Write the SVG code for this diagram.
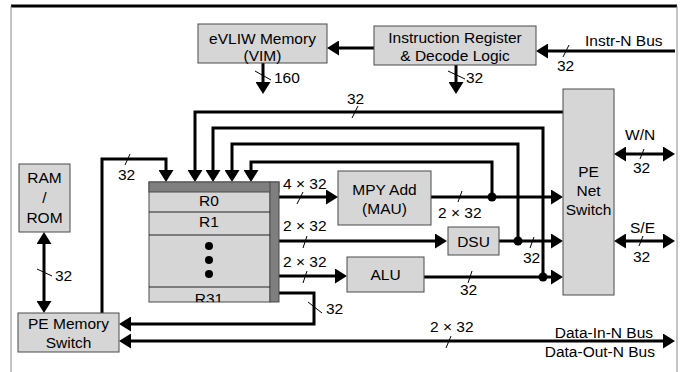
<svg xmlns="http://www.w3.org/2000/svg" width="686" height="372" viewBox="0 0 686 372">
<style>
.box{fill:#d6d6d6;stroke:#4a4a4a;stroke-width:1}
.dark{fill:#7f7f7f;stroke:#4a4a4a;stroke-width:1}
.t{font-family:"Liberation Sans",Arial,sans-serif;font-size:15.5px;fill:#000}
.c{text-anchor:middle}
.r{text-anchor:end}
.w{fill:none;stroke:#000;stroke-width:3}
.tick{fill:none;stroke:#000;stroke-width:1}
.fe{marker-end:url(#ah)}
.fs{marker-start:url(#ahs)}
</style>
<defs>
<marker id="ah" markerUnits="userSpaceOnUse" markerWidth="12" markerHeight="15" refX="3" refY="7.5" orient="auto">
<path d="M0,0 L12,7.5 L0,15 Z" fill="#000"/>
</marker>
<marker id="ahs" markerUnits="userSpaceOnUse" markerWidth="12" markerHeight="15" refX="3" refY="7.5" orient="auto-start-reverse">
<path d="M0,0 L12,7.5 L0,15 Z" fill="#000"/>
</marker>
<clipPath id="rfclip"><rect x="149" y="287" width="121" height="15"/></clipPath>
</defs>
<rect x="0" y="0" width="686" height="372" fill="#fff"/>
<g id="frame">
<line x1="11" y1="6" x2="677" y2="6" stroke="#000" stroke-width="3"/>
<line x1="11" y1="6" x2="11" y2="372" stroke="#8a8a8a" stroke-width="1"/>
<line x1="677" y1="6" x2="677" y2="372" stroke="#8a8a8a" stroke-width="1"/>
</g>
<g id="connectors">
<path class="w fe" d="M374,48 H336"/>
<path class="w fe" d="M675,51 H545"/>
<path class="w fe" d="M263,63 V85"/>
<path class="w fe" d="M456,65 V85"/>
<path class="w fe" d="M563,112 H195 V173"/>
<path class="w fe" d="M102,313 V159 H166 V173"/>
<path class="w fe" d="M543,277 V128 H213 V173"/>
<path class="w fe" d="M518,241 V144 H232 V173"/>
<path class="w fe" d="M492,197 V162 H251 V173"/>
<path class="w fe" d="M279,197 H329"/>
<path class="w fe" d="M431,197 H554"/>
<path class="w fe" d="M279,241 H438"/>
<path class="w fe" d="M499,241 H554"/>
<path class="w fe" d="M279,276 H338"/>
<path class="w fe" d="M424,277 H554"/>
<path class="w fe" d="M279,293 H314 V324 H128"/>
<path class="w fe fs" d="M128,341 H666"/>
<path class="w fe fs" d="M44,241 V304"/>
<path class="w fe fs" d="M623,154 H666"/>
<path class="w fe fs" d="M623,241 H666"/>
<circle cx="492" cy="197" r="4.5"/>
<circle cx="518" cy="241" r="4.5"/>
<circle cx="543" cy="277" r="4.5"/>
<g class="tick">
<line x1="255" y1="71" x2="271" y2="80"/>
<line x1="448" y1="71" x2="465" y2="79"/>
<line x1="563" y1="57" x2="569" y2="45"/>
<line x1="352" y1="118" x2="358" y2="106"/>
<line x1="125" y1="165" x2="130" y2="154"/>
<line x1="297" y1="204" x2="303" y2="192"/>
<line x1="458" y1="202" x2="462" y2="191"/>
<line x1="303" y1="248" x2="307" y2="236"/>
<line x1="530" y1="248" x2="534" y2="237"/>
<line x1="303" y1="283" x2="307" y2="271"/>
<line x1="468" y1="283" x2="472" y2="271"/>
<line x1="308" y1="302" x2="322" y2="313"/>
<line x1="37" y1="269" x2="52" y2="276"/>
<line x1="640" y1="159" x2="644" y2="149"/>
<line x1="639" y1="246" x2="643" y2="236"/>
<line x1="446" y1="348" x2="451" y2="336"/>
</g>
<g class="t">
<text x="274" y="83">160</text>
<text x="466" y="83">32</text>
<text x="557" y="71">32</text>
<text x="347" y="104">32</text>
<text x="118" y="180">32</text>
<text x="283" y="189">4 × 32</text>
<text x="438" y="218">2 × 32</text>
<text x="283" y="231">2 × 32</text>
<text x="523" y="263">32</text>
<text x="283" y="267">2 × 32</text>
<text x="460" y="295">32</text>
<text x="326" y="314">32</text>
<text x="55" y="281">32</text>
<text x="625" y="140">W/N</text>
<text x="633" y="173">32</text>
<text x="630" y="233">S/E</text>
<text x="633" y="262">32</text>
<text x="430" y="332">2 × 32</text>
<text x="585" y="46">Instr-N Bus</text>
<text class="r" x="653" y="338">Data-In-N Bus</text>
<text class="r" x="655" y="357">Data-Out-N Bus</text>
</g>
</g>
<g id="vim">
<rect class="box" x="198" y="24" width="129" height="39"/>
<text class="t c" x="262.5" y="44">eVLIW Memory</text>
<text class="t c" x="262.5" y="61">(VIM)</text>
</g>
<g id="ir">
<rect class="box" x="374" y="26" width="162" height="39"/>
<text class="t c" x="455" y="43">Instruction Register</text>
<text class="t c" x="455" y="61">&amp; Decode Logic</text>
</g>
<g id="penet">
<rect class="box" x="563" y="89" width="51" height="206"/>
<text class="t c" x="588.5" y="177">PE</text>
<text class="t c" x="588.5" y="196">Net</text>
<text class="t c" x="588.5" y="215">Switch</text>
</g>
<g id="regfile">
<rect class="box" x="149" y="182" width="121" height="120"/>
<rect class="dark" x="149" y="182" width="130" height="10"/>
<rect class="dark" x="270" y="182" width="9" height="120"/>
<line x1="149" y1="212" x2="270" y2="212" stroke="#222" stroke-width="1"/>
<line x1="149" y1="235" x2="270" y2="235" stroke="#222" stroke-width="1"/>
<line x1="149" y1="287" x2="270" y2="287" stroke="#222" stroke-width="1"/>
<text class="t c" x="209" y="206">R0</text>
<text class="t c" x="209" y="227">R1</text>
<circle cx="209" cy="246" r="4"/>
<circle cx="209" cy="260" r="4"/>
<circle cx="209" cy="274" r="4"/>
<text class="t c" x="209" y="304" clip-path="url(#rfclip)">R31</text>
</g>
<g id="mau">
<rect class="box" x="338" y="171" width="93" height="54"/>
<text class="t c" x="384.5" y="195">MPY Add</text>
<text class="t c" x="384.5" y="214">(MAU)</text>
</g>
<g id="dsu">
<rect class="box" x="448" y="227" width="51" height="28"/>
<text class="t c" x="473.5" y="247">DSU</text>
</g>
<g id="alu">
<rect class="box" x="347" y="257" width="77" height="35"/>
<text class="t c" x="385.5" y="280">ALU</text>
</g>
<g id="ram">
<rect class="box" x="19" y="164" width="51" height="68"/>
<text class="t c" x="44.5" y="183">RAM</text>
<text class="t c" x="44.5" y="203">/</text>
<text class="t c" x="44.5" y="223">ROM</text>
</g>
<g id="pems">
<rect class="box" x="18" y="313" width="101" height="39"/>
<text class="t c" x="68.5" y="329">PE Memory</text>
<text class="t c" x="68.5" y="348">Switch</text>
</g>
</svg>
